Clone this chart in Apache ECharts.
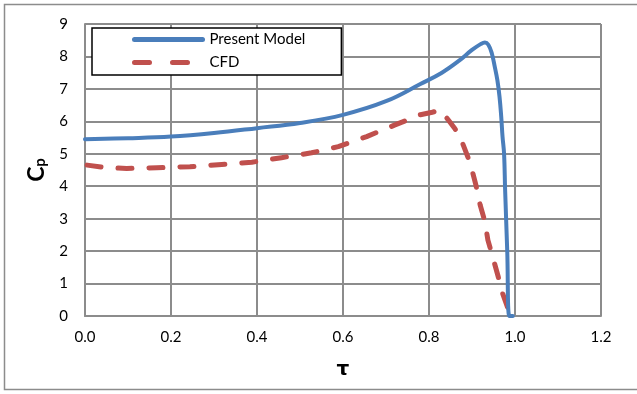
<!DOCTYPE html>
<html>
<head>
<meta charset="utf-8">
<script src="https://cdn.jsdelivr.net/npm/echarts@6/dist/echarts.min.js"></script>
<style>
  html, body { margin: 0; padding: 0; background: #fff; }
  #chart { width: 637px; height: 394px; }
</style>
</head>
<body>
<div id="chart"></div>
<script>
// Pressure coefficient along the normalised coordinate tau
const modelTau = [0.000, 0.100, 0.200, 0.300, 0.400, 0.500, 0.600, 0.700, 0.780, 0.830, 0.870, 0.900, 0.920, 0.930, 0.938, 0.946, 0.953, 0.959, 0.964, 0.968, 0.971, 0.9746, 0.977, 0.982, 0.987, 0.995];
const modelCp  = [5.45, 5.48, 5.53, 5.64, 5.79, 5.95, 6.20, 6.62, 7.15, 7.50, 7.87, 8.20, 8.38, 8.43, 8.36, 8.10, 7.68, 7.27, 6.76, 6.14, 5.53, 5.00, 3.90, 1.98, 0.00, 0.00];

const cfdTau = [0.005, 0.050, 0.097, 0.167, 0.244, 0.318, 0.388, 0.457, 0.527, 0.589, 0.655, 0.721, 0.779, 0.805, 0.826, 0.845, 0.860, 0.872, 0.884, 0.896, 0.909, 0.919, 0.930, 0.937, 0.949, 0.961, 0.971, 0.990];
const cfdCp  = [4.65, 4.57, 4.55, 4.57, 4.60, 4.67, 4.74, 4.88, 5.03, 5.22, 5.53, 5.89, 6.20, 6.27, 6.35, 6.04, 5.78, 5.53, 5.12, 4.70, 4.04, 3.42, 2.91, 2.34, 1.78, 1.21, 0.70, 0.00];

const seriesNames = ['Present Model', 'CFD'];
const FONT = 'Lato';

const pairs = (xs, ys) => xs.map((x, i) => [x, ys[i]]);
const gridColor = '#8c8c8c';
const blue = '#4a7ebb';
const red = '#c0504d';
const cfdDash = [14, 17];
const hiddenSymbol = { opacity: 0, borderWidth: 0 };

const chart = echarts.init(document.getElementById('chart'), null, { renderer: 'canvas' });
chart.setOption({
  animation: false,
  backgroundColor: '#fff',
  textStyle: { fontFamily: FONT },
  graphic: [{
    type: 'rect',
    shape: { x: 4.5, y: 4.5, width: 640, height: 385 },
    style: { fill: 'none', stroke: '#8c8c8c', lineWidth: 1.5 },
    z: 0
  }],
  grid: { left: 85, top: 24, right: 36, bottom: 78 },
  legend: {
    orient: 'vertical',
    left: 92, top: 28,
    data: [
      { name: seriesNames[0], itemStyle: hiddenSymbol, lineStyle: { width: 5, color: blue, type: 'solid', cap: 'round' } },
      { name: seriesNames[1], itemStyle: hiddenSymbol, lineStyle: { width: 5, color: red, type: [15, 23], cap: 'round' } }
    ],
    itemWidth: 68, itemHeight: 14, itemGap: 8,
    padding: [4, 36, 5, 40],
    borderColor: '#000', borderWidth: 1.5,
    backgroundColor: '#fff',
    textStyle: { fontFamily: FONT, fontSize: 15, color: '#000', padding: [0, 0, 0, 2] }
  },
  xAxis: {
    type: 'value', min: 0, max: 1.2, interval: 0.2,
    name: 'τ', nameLocation: 'middle', nameGap: 44,
    nameTextStyle: { fontFamily: 'DejaVu Sans', fontWeight: 'bold', fontSize: 20, color: '#000' },
    axisLine: { show: true, lineStyle: { color: gridColor, width: 2 } },
    axisTick: { show: false },
    axisLabel: { margin: 14, fontSize: 15, color: '#000', formatter: v => v.toFixed(1) },
    splitLine: { show: true, lineStyle: { color: gridColor, width: 2 } }
  },
  yAxis: {
    type: 'value', min: 0, max: 9, interval: 1,
    name: '{c|C}{s|p}', nameLocation: 'middle', nameGap: 37, nameRotate: 90,
    nameTextStyle: {
      rich: {
        c: { fontFamily: FONT, fontWeight: 'bold', fontSize: 23, color: '#000', lineHeight: 24, verticalAlign: 'bottom' },
        s: { fontFamily: FONT, fontWeight: 'bold', fontSize: 15, color: '#000', lineHeight: 10, verticalAlign: 'bottom' }
      }
    },
    axisLine: { show: true, lineStyle: { color: gridColor, width: 2 } },
    axisTick: { show: false },
    axisLabel: { margin: 17, fontSize: 15, color: '#000' },
    splitLine: { show: true, lineStyle: { color: gridColor, width: 2 } }
  },
  series: [
    {
      name: seriesNames[0], type: 'line',
      data: pairs(modelTau, modelCp),
      symbol: 'none', smooth: 0.4,
      lineStyle: { color: blue, width: 4, cap: 'round', join: 'round' },
      itemStyle: { color: blue },
      z: 3
    },
    {
      name: seriesNames[1], type: 'line',
      data: pairs(cfdTau, cfdCp),
      symbol: 'none',
      lineStyle: { color: red, width: 5, type: cfdDash, cap: 'round', join: 'round' },
      itemStyle: { color: red },
      z: 2
    }
  ]
});
</script>
</body>
</html>
